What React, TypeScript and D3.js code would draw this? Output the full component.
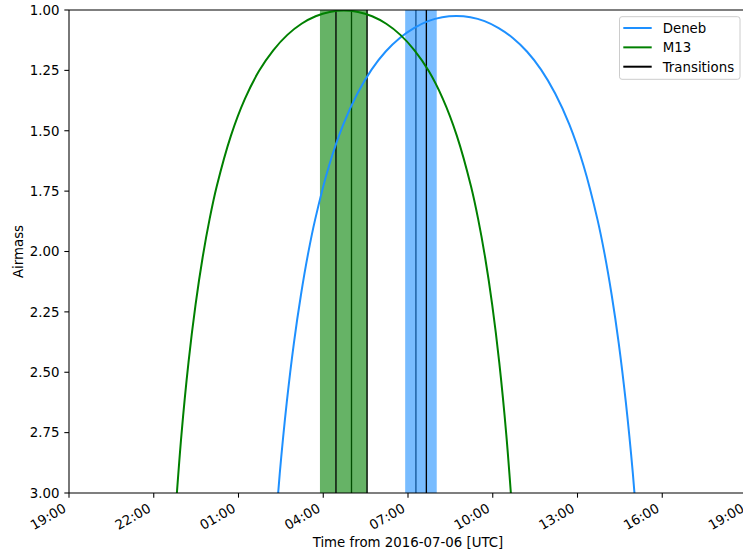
import React from "react";
import * as d3 from "d3";

// Hours after 2016-07-05 19:00 UTC
const START_MS = Date.UTC(2016, 6, 5, 19, 0, 0);

const m13Hours = [3.73, 3.98, 4.23, 4.48, 4.73, 4.98, 5.23, 5.73, 6.23, 6.73, 7.23, 7.73, 8.23, 8.73, 9.23, 9.73, 10.23, 10.73, 11.23, 11.73, 12.23, 12.73, 13.23, 13.73, 14.23, 14.48, 14.73, 14.98, 15.23, 15.48, 15.73];
const m13Airmass = [3.144, 2.759, 2.459, 2.22, 2.025, 1.864, 1.73, 1.521, 1.367, 1.252, 1.167, 1.103, 1.057, 1.026, 1.008, 1.002, 1.008, 1.026, 1.057, 1.103, 1.167, 1.252, 1.367, 1.521, 1.73, 1.864, 2.025, 2.22, 2.459, 2.759, 3.144];

const denebHours = [7.21, 7.46, 7.71, 7.96, 8.21, 8.46, 8.71, 9.21, 9.71, 10.21, 10.71, 11.21, 11.71, 12.21, 12.71, 13.21, 13.71, 14.21, 14.71, 15.21, 15.71, 16.21, 16.71, 17.21, 17.71, 18.21, 18.71, 18.96, 19.21, 19.46, 19.71, 19.96, 20.21];
const denebAirmass = [3.291, 2.92, 2.623, 2.38, 2.18, 2.011, 1.869, 1.643, 1.474, 1.346, 1.247, 1.172, 1.116, 1.075, 1.046, 1.03, 1.025, 1.03, 1.046, 1.075, 1.116, 1.172, 1.247, 1.346, 1.474, 1.643, 1.869, 2.011, 2.18, 2.38, 2.623, 2.92, 3.291];

const m13BandHours = [8.883, 10.567];
const denebBandHours = [11.9, 13.017];
const transitionHours = [9.45, 10.0, 10.55, 12.28, 12.65];
const transitionBehindBand = [false, true, false, true, false];

const xTickHours = [0, 3, 6, 9, 12, 15, 18, 21, 24];
const xTickLabels = ["19:00", "22:00", "01:00", "04:00", "07:00", "10:00", "13:00", "16:00", "19:00"];
const yTicks = [1.0, 1.25, 1.5, 1.75, 2.0, 2.25, 2.5, 2.75, 3.0];

const legendLabels = ["Deneb", "M13", "Transitions"];

const W = 743;
const H = 555;
const L = 69;
const R = 747;
const T = 10;
const B = 493;
const FONT = "DejaVu Sans, sans-serif";
const FS = 13.33;

const toDate = (h: number) => new Date(START_MS + h * 3600e3);

export default function App() {
  const x = d3.scaleUtc().domain([toDate(0), toDate(24)]).range([L, R]);
  const y = d3.scaleLinear().domain([1, 3]).range([T, B]);

  const line = d3
    .line<[number, number]>()
    .x((d) => x(toDate(d[0])))
    .y((d) => y(d[1]))
    .curve(d3.curveCatmullRom);

  const m13Path = line(m13Hours.map((h, i) => [h, m13Airmass[i]] as [number, number])) || "";
  const denebPath = line(denebHours.map((h, i) => [h, denebAirmass[i]] as [number, number])) || "";

  const vline = (h: number, i: number) => (
    <line key={"t" + i} x1={x(toDate(h))} x2={x(toDate(h))} y1={T} y2={B} stroke="black" strokeWidth={1.33} />
  );

  const legendColors = ["#1E90FF", "green", "black"];
  const legendWidths = [2, 2, 2];

  return (
    <svg width={W} height={H} style={{ position: "absolute", left: 0, top: 0, background: "white" }} fontFamily={FONT}>
      <defs>
        <clipPath id="plotclip">
          <rect x={L} y={T} width={R - L} height={B - T} />
        </clipPath>
      </defs>
      <rect x={0} y={0} width={W} height={H} fill="white" />
      <g clipPath="url(#plotclip)">
        {transitionHours.map((h, i) => (transitionBehindBand[i] ? vline(h, i) : null))}
        <rect
          x={x(toDate(m13BandHours[0]))}
          width={x(toDate(m13BandHours[1])) - x(toDate(m13BandHours[0]))}
          y={T}
          height={B - T}
          fill="green"
          fillOpacity={0.6}
        />
        <rect
          x={x(toDate(denebBandHours[0]))}
          width={x(toDate(denebBandHours[1])) - x(toDate(denebBandHours[0]))}
          y={T}
          height={B - T}
          fill="#1E90FF"
          fillOpacity={0.6}
        />
        {transitionHours.map((h, i) => (!transitionBehindBand[i] ? vline(h, i) : null))}
        <path d={denebPath} fill="none" stroke="#1E90FF" strokeWidth={2} />
        <path d={m13Path} fill="none" stroke="green" strokeWidth={2} />
      </g>
      {/* spines */}
      <g stroke="black" strokeWidth={1.07} fill="none">
        <line x1={L} x2={L} y1={T} y2={B} />
        <line x1={R} x2={R} y1={T} y2={B} />
        <line x1={L} x2={R} y1={T} y2={T} />
        <line x1={L} x2={R} y1={B} y2={B} />
      </g>
      {/* y ticks */}
      {yTicks.map((v) => (
        <g key={"y" + v}>
          <line x1={L - 4.67} x2={L} y1={y(v)} y2={y(v)} stroke="black" strokeWidth={1.07} />
          <text x={L - 9.5} y={y(v)} dy="0.36em" textAnchor="end" fontSize={FS} fill="black">
            {v.toFixed(2)}
          </text>
        </g>
      ))}
      {/* x ticks */}
      {xTickHours.map((h, i) => {
        const px = x(toDate(h));
        return (
          <g key={"x" + i}>
            <line x1={px} x2={px} y1={B} y2={B + 4.67} stroke="black" strokeWidth={1.07} />
            <text
              transform={`translate(${px - 2},${B + 18}) rotate(-30)`}
              textAnchor="end"
              fontSize={FS}
              fill="black"
            >
              {xTickLabels[i]}
            </text>
          </g>
        );
      })}
      <text x={(L + R) / 2} y={547} textAnchor="middle" fontSize={FS} fill="black">
        Time from 2016-07-06 [UTC]
      </text>
      <text transform={`translate(22.5,${(T + B) / 2}) rotate(-90)`} textAnchor="middle" fontSize={FS} fill="black">
        Airmass
      </text>
      {/* legend */}
      <rect x={619.5} y={16.7} width={120.5} height={62.6} rx={2.5} fill="white" fillOpacity={0.8} stroke="#cccccc" strokeWidth={1} />
      {legendLabels.map((lab, i) => {
        const ly = 28 + i * 19.35;
        return (
          <g key={lab}>
            <line x1={623.3} x2={651.7} y1={ly} y2={ly} stroke={legendColors[i]} strokeWidth={legendWidths[i]} />
            <text x={662.7} y={ly + 5} fontSize={FS} fill="black">
              {lab}
            </text>
          </g>
        );
      })}
    </svg>
  );
}
